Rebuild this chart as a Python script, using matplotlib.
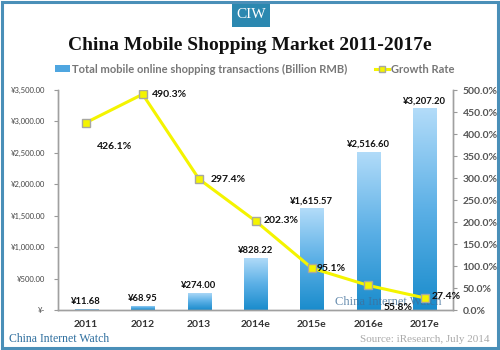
import numpy as np
import matplotlib
matplotlib.use("Agg")
import matplotlib.pyplot as plt
from matplotlib.patches import Rectangle
from matplotlib.lines import Line2D
from matplotlib.colors import LinearSegmentedColormap

categories = ["2011", "2012", "2013", "2014e", "2015e", "2016e", "2017e"]
transactions = [11.68, 68.95, 274.00, 828.22, 1615.57, 2516.60, 3207.20]
growth = [426.1, 490.3, 297.4, 202.3, 95.1, 55.8, 27.4]
left_ticks = [0, 500, 1000, 1500, 2000, 2500, 3000, 3500]
left_tick_labels = ["¥-", "¥500.00", "¥1,000.00", "¥1,500.00", "¥2,000.00",
                    "¥2,500.00", "¥3,000.00", "¥3,500.00"]
right_ticks = [0, 50, 100, 150, 200, 250, 300, 350, 400, 450, 500]

SANS = ["Lato", "DejaVu Sans"]
SERIF = ["Liberation Serif", "DejaVu Serif"]
plt.rcParams['font.family'] = SANS

fig = plt.figure(figsize=(5, 3.5), dpi=100)
W, H = 500, 350
ax = fig.add_axes([58 / W, 1 - 310 / H, (453 - 58) / W, (310 - 90) / H])
ax2 = ax.twinx()

x = np.arange(len(categories))
bars = ax.bar(x, transactions, width=0.41, color="none", edgecolor="none", zorder=2)
cmap = LinearSegmentedColormap.from_list("bl", ["#1a8ccc", "#5cb0e6", "#b3dcf9"])
grad = np.linspace(0, 1, 256).reshape(-1, 1)
for b in bars:
    bx, by = b.get_x(), b.get_y()
    bw, bh = b.get_width(), b.get_height()
    im = ax.imshow(grad, cmap=cmap, origin="lower", aspect="auto",
                   extent=[bx, bx + bw, by, by + bh], zorder=2)
    im.set_clip_path(b)
for xi, v in zip(x, transactions):
    ax.text(xi, v + 45, f"¥{v:,.2f}", ha="center", va="bottom", fontsize=6.8,
            fontweight="bold", color="#111111", zorder=5)

ax.set_xlim(-0.5, len(categories) - 0.5)
ax.set_ylim(0, 3500)
ax.set_yticks(left_ticks)
ax.set_yticklabels(left_tick_labels, fontsize=5.5, color="#444444")
ax.set_xticks(x)
ax.set_xticklabels(categories, fontsize=7.5, fontweight="bold", color="#333333")
ax.tick_params(axis="x", length=0, pad=7)
ax.tick_params(axis="y", length=3, color="#999999", pad=6)

ax2.plot(x, growth, color="#f4f400", lw=2.2, marker="s", markersize=6,
         markerfacecolor="#f4f400", markeredgecolor="#a8a8a0", markeredgewidth=1.0, zorder=4)
ax2.set_ylim(0, 500)
ax2.set_yticks(right_ticks)
ax2.set_yticklabels([f"{t:.1f}%" for t in right_ticks], fontsize=7.5, color="#555555",
                    fontweight="bold")
ax2.tick_params(axis="y", length=3, color="#999999", pad=4)

offsets = [(0.5, -55, "center", "center"), (0.16, 0, "left", "center"),
           (0.2, 0, "left", "center"), (0.15, 0, "left", "center"),
           (0.08, 0, "left", "center"), (0.53, -50, "center", "center"),
           (0.12, 3, "left", "center")]
for xi, g, (dx, dy, ha, va) in zip(x, growth, offsets):
    ax2.text(xi + dx, g + dy, f"{g:.1f}%", ha=ha, va=va, fontsize=7.5,
             fontweight="bold", color="#111111", zorder=6)

for a in (ax, ax2):
    a.spines["top"].set_visible(False)
    for s in ("left", "right", "bottom"):
        a.spines[s].set_color("#a0a0a0")
        a.spines[s].set_linewidth(1.0)
ax.set_zorder(ax2.get_zorder() - 1)
ax2.patch.set_visible(False)
ax.patch.set_visible(False)

# watermark
ax.text(5.35, 125, "China Internet Watch", fontsize=9, family=SERIF, color="#3f6f9a",
        alpha=0.8, ha="center", va="center", zorder=3)

# legend
handles = [Rectangle((0, 0), 1, 1, facecolor="#4fa6e0", edgecolor="none"),
           Line2D([0], [0], color="#f4f400", lw=2.2, marker="s", markersize=5,
                  markerfacecolor="#f4f400", markeredgecolor="#a8a8a0")]
leg = fig.legend(handles, ["Total mobile online shopping transactions (Billion RMB)", "Growth Rate"],
                 loc="center", bbox_to_anchor=(0.51, 1 - 69 / H), ncol=2, frameon=False,
                 fontsize=8, handlelength=1.3, handleheight=0.5, columnspacing=2.5,
                 handletextpad=0.2)
for t in leg.get_texts():
    t.set_color("#777777")
    t.set_fontweight("bold")

# title
fig.text(0.5, 1 - 45 / H, "China Mobile Shopping Market 2011-2017e", ha="center", va="center",
         fontsize=14, fontweight="bold", family=SERIF, color="#111111")

# CIW badge
fig.patches.append(Rectangle((232 / W, 1 - 27 / H), 38 / W, 24 / H, transform=fig.transFigure,
                             facecolor="#2b88b0", edgecolor="none"))
fig.text(251 / W, 1 - 15 / H, "CIW", ha="center", va="center", fontsize=11,
         family=SERIF, color="white")

# footer
fig.text(9 / W, 1 - 339 / H, "China Internet Watch", ha="left", va="center", fontsize=8.5,
         family=SERIF, color="#2f6f9f")
fig.text(490 / W, 1 - 339 / H, "Source: iResearch, July 2014", ha="right", va="center",
         fontsize=8, family=SERIF, color="#aaaaaa")

# border
fig.patches.append(Rectangle((0.004, 0.006), 0.992, 0.988, transform=fig.transFigure,
                             facecolor="none", edgecolor="#4a8fb8", linewidth=2.2))

fig.savefig("out.png", dpi=100)
